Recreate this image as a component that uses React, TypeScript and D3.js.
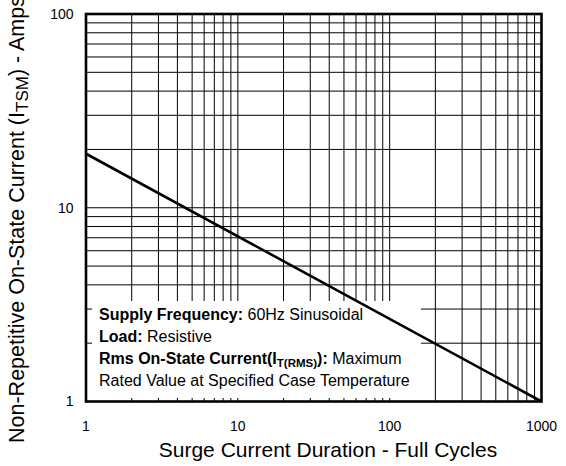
import * as d3 from 'd3';

// surge curve: (cycles, amps), straight in log-log
const curveCycles = [1, 1000];
const curveAmps = [19, 1];

const xTicks = [1, 10, 100, 1000];
const yTicks = [1, 10, 100];

const xGrid = [2, 3, 4, 5, 6, 7, 8, 9, 10, 20, 30, 40, 50, 60, 70, 80, 90, 100, 200, 300, 400, 500, 600, 700, 800, 900];
const yGrid = [2, 3, 4, 5, 6, 7, 8, 9, 10, 20, 30, 40, 50, 60, 70, 80, 90];

const FONT = '"Liberation Sans", Arial, sans-serif';

const App = () => {
  const W = 566, H = 466;
  const m = { top: 14, right: 24.5, bottom: 64.5, left: 86 };
  const iw = W - m.left - m.right;
  const ih = H - m.top - m.bottom;

  const x = d3.scaleLog().domain([1, 1000]).range([0, iw]);
  const y = d3.scaleLog().domain([1, 100]).range([ih, 0]);

  const line = d3.line<number>()
    .x((_, i) => x(curveCycles[i]))
    .y(d => y(d));

  // white note box over the lower-left grid
  const box = { x: 6, y: 287, w: 329, h: 97 };

  return (
    <svg width={W} height={H} style={{ position: 'absolute', left: 0, top: 0, background: '#fff' }}>
      <g transform={`translate(${m.left},${m.top})`} fontFamily={FONT}>
        {xGrid.map(v => (
          <line key={'x' + v} x1={x(v)} x2={x(v)} y1={0} y2={ih} stroke="#000" strokeWidth={1} />
        ))}
        {yGrid.map(v => (
          <line key={'y' + v} x1={0} x2={iw} y1={y(v)} y2={y(v)} stroke="#000" strokeWidth={1} />
        ))}

        <rect x={box.x} y={box.y} width={box.w} height={box.h} fill="#fff" />

        <path d={line(curveAmps) || ''} fill="none" stroke="#000" strokeWidth={2.6} />

        <rect x={0} y={0} width={iw} height={ih} fill="none" stroke="#000" strokeWidth={2.6} />

        <g fontSize={16} fill="#000">
          <text x={13} y={305.5}>
            <tspan fontWeight="bold">Supply Frequency:</tspan> 60Hz Sinusoidal
          </text>
          <text x={13} y={327.5}>
            <tspan fontWeight="bold">Load:</tspan> Resistive
          </text>
          <text x={13} y={349.5}>
            <tspan fontWeight="bold">Rms On-State Current(I</tspan>
            <tspan fontWeight="bold" fontSize={11.5} dy={3}>T(RMS)</tspan>
            <tspan fontWeight="bold" dy={-3}>):</tspan> Maximum
          </text>
          <text x={13} y={371.5}>Rated Value at Specified Case Temperature</text>
        </g>

        {yTicks.map(v => (
          <text key={'yt' + v} x={-12.5} y={y(v)} dy="0.35em" textAnchor="end" fontSize={14}>{v}</text>
        ))}
        {xTicks.map(v => (
          <text key={'xt' + v} x={x(v)} y={ih + 29.5} textAnchor="middle" fontSize={14}>{v}</text>
        ))}

        <text x={242} y={ih + 55.5} textAnchor="middle" fontSize={21}>Surge Current Duration - Full Cycles</text>
      </g>

      <text transform="translate(24,443) rotate(-90)" fontFamily={FONT} fontSize={21.5}>
        Non-Repetitive On-State Current (I<tspan fontSize={17} dy={4}>TSM</tspan><tspan dy={-4}>) - Amps</tspan>
      </text>
    </svg>
  );
};

export default App;
